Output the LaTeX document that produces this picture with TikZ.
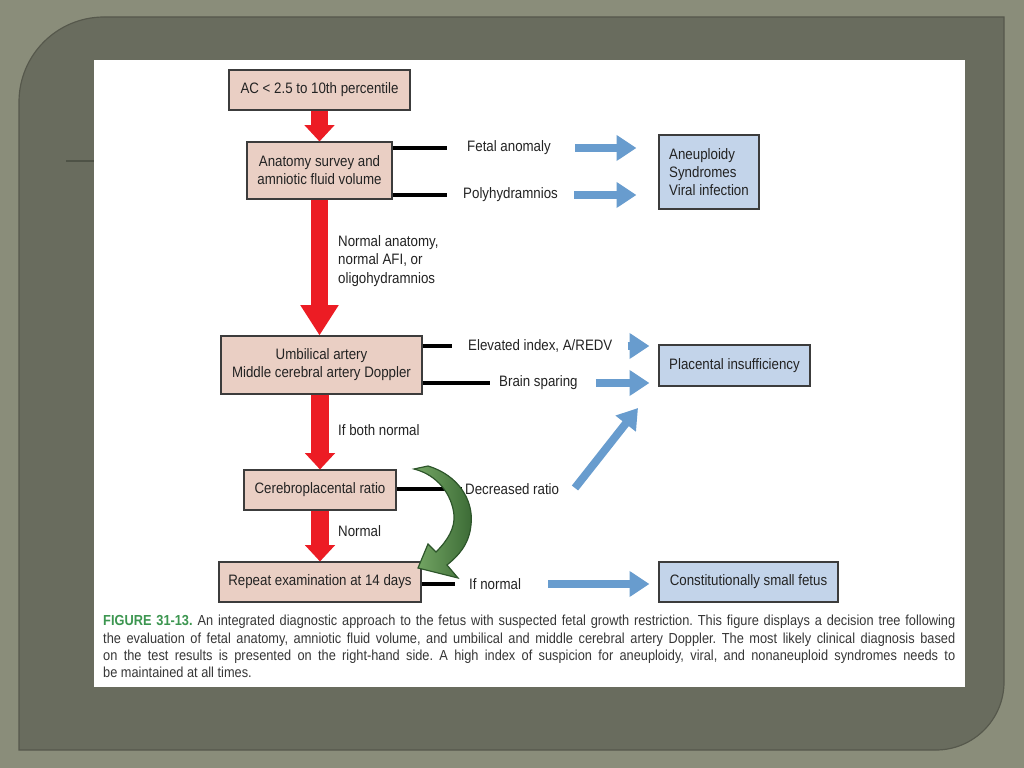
\documentclass[tikz,border=0pt]{standalone}
\usepackage{fontspec}
\setmainfont[FakeStretch=0.88]{Liberation Sans}
\usetikzlibrary{arrows.meta}

\definecolor{outerbg}{RGB}{138,141,122}
\definecolor{panelbg}{RGB}{105,108,94}
\definecolor{panelrim}{RGB}{86,88,76}
\definecolor{decoline}{RGB}{78,82,70}
\definecolor{pinkfill}{RGB}{234,207,196}
\definecolor{bluefill}{RGB}{195,212,234}
\definecolor{boxline}{RGB}{60,60,60}
\definecolor{redarr}{RGB}{236,28,36}
\definecolor{bluearr}{RGB}{104,156,206}
\definecolor{capgreen}{RGB}{60,150,80}
\definecolor{greenlight}{RGB}{118,168,102}
\definecolor{greendark}{RGB}{58,105,52}
\definecolor{greenline}{RGB}{45,85,42}
\definecolor{txt}{RGB}{35,35,35}
\definecolor{captxt}{RGB}{55,55,55}

\frenchspacing
\begin{document}
\begin{tikzpicture}[x=0.03cm,y=-0.03cm]

\tikzstyle{pinkbox}=[draw=boxline, fill=pinkfill, line width=0.9pt, inner sep=0pt, align=center, text=txt, font=\fontsize{12.9}{15.5}\selectfont]
\tikzstyle{bluebox}=[draw=boxline, fill=bluefill, line width=0.9pt, inner sep=0pt, align=center, text=txt, font=\fontsize{12.9}{15.5}\selectfont]
\tikzstyle{lab}=[inner sep=0pt, anchor=west, text=txt, font=\fontsize{12.9}{15.5}\selectfont]
\tikzstyle{stub}=[line width=2.6pt, black]
\tikzstyle{redarrow}=[draw=redarr, line width=15pt, -{Triangle[length=14pt,width=25pt]}]
\tikzstyle{bigredarrow}=[draw=redarr, line width=15pt, -{Triangle[length=26pt,width=31pt]}]
\tikzstyle{bluearrow}=[draw=bluearr, line width=6.8pt, -{Triangle[length=17pt,width=21pt]}]

% slide frame
\fill[outerbg] (0,0) rectangle (1024,768);
\filldraw[fill=panelbg, draw=panelrim, line width=1pt] (19,102) .. controls (19,55) and (57,17) .. (104,17) -- (1004,17) -- (1004,682) .. controls (1004,719.5) and (973.5,750) .. (936,750) -- (19,750) -- cycle;
\fill[white] (94,60) rectangle (965,687);
\draw[decoline, line width=1.5pt] (66,161) -- (94,161);

% left column
\node (ac) [pinkbox, minimum width=5.43cm, minimum height=1.2cm] at (319.5,90) {AC < 2.5 to 10th percentile};
\node (anat) [pinkbox, minimum width=4.35cm, minimum height=1.71cm] at (319.5,170.5) {Anatomy survey and\\amniotic fluid volume};
\node (uma) [pinkbox, minimum width=6.03cm, minimum height=1.74cm] at (321.5,365) {Umbilical artery\\Middle cerebral artery Doppler};
\node (cpr) [pinkbox, minimum width=4.56cm, minimum height=1.2cm] at (320,490) {Cerebroplacental ratio};
\node (rep) [pinkbox, minimum width=6.06cm, minimum height=1.2cm] at (320,582) {Repeat examination at 14 days};

% diagnoses
\node (aneu) [bluebox, minimum width=3cm, minimum height=2.22cm, align=left] at (709,172) {Aneuploidy\\Syndromes\\Viral infection};
\node (plac) [bluebox, minimum width=4.53cm, minimum height=1.23cm] at (734.5,365.5) {Placental insufficiency};
\node (csf) [bluebox, minimum width=5.37cm, minimum height=1.2cm] at (748.5,582) {Constitutionally small fetus};

% findings
\node (fetal) [lab] at (467,148) {Fetal anomaly};
\node (poly) [lab] at (463,195) {Polyhydramnios};
\node (elev) [lab] at (468,346) {Elevated index, A/REDV};
\node (brain) [lab] at (499,383) {Brain sparing};
\node (decr) [lab] at (465,489) {Decreased ratio};
\node (ifnorm) [lab] at (469,584) {If normal};
\node (nanat) [lab, align=left] at (338,261) {Normal anatomy,\\normal AFI, or\\oligohydramnios};
\node (both) [lab] at (338,430) {If both normal};
\node (norm) [lab] at (338,531) {Normal};

\coordinate (diagtail) at (575,488);
\coordinate (diagtip) at (638,408);

% red flow
\draw [redarrow] (ac) -- (anat);
\draw [bigredarrow] (anat) -- (anat.south |- uma.north);
\draw [redarrow] (cpr |- uma.south) -- (cpr);
\draw [redarrow] (cpr) -- (rep);

% stubs
\draw [stub, shorten >=0.6cm] (anat.east |- fetal) -- (fetal.west);
\draw [stub, shorten >=0.48cm] (anat.east |- poly) -- (poly.west);
\draw [stub, shorten >=0.48cm] (uma.east |- elev) -- (elev.west);
\draw [stub, shorten >=0.27cm] (uma.east |- brain) -- (brain.west);
\draw [stub, shorten >=0.09cm] (cpr.east |- decr) -- (decr.west);
\draw [stub, shorten >=0.42cm] (rep.east |- ifnorm) -- (ifnorm.west);

% blue arrows
\draw [bluearrow, shorten <=0.72cm, shorten >=0.66cm] (fetal.east) -- (aneu.west |- fetal);
\draw [bluearrow, shorten <=0.48cm, shorten >=0.66cm] (poly.east) -- (aneu.west |- poly);
\draw [bluearrow, shorten <=0.45cm, shorten >=0.27cm] (elev.east) -- (plac.west |- elev);
\draw [bluearrow, shorten <=0.54cm, shorten >=0.27cm] (brain.east) -- (plac.west |- brain);
\draw [bluearrow] (diagtail) -- (diagtip);
\draw [bluearrow, shorten <=0.81cm, shorten >=0.27cm] (ifnorm.east) -- (csf.west |- ifnorm);

% green loop back
\filldraw [draw=greenline, line width=1pt, left color=greenlight, right color=greendark]
  (428,466) .. controls (458,475) and (474,500) .. (471,525)
  .. controls (469,545) and (458,556) .. (447,565) -- (458,578) -- (418,568) -- (428,544) -- (436,552)
  .. controls (448,540) and (455,528) .. (454,515)
  .. controls (452,495) and (438,475) .. (414,469) -- cycle;

% caption
\node (cap) [anchor=north west, inner sep=0pt, text width=25.56cm, align=justify, text=captxt, font=\fontsize{12.4}{14.8}\selectfont] at (103,615)
  {\textcolor{capgreen}{\textbf{FIGURE 31-13.}} An integrated diagnostic approach to the fetus with suspected fetal growth restriction. This figure displays a decision tree following\linebreak
   the evaluation of fetal anatomy, amniotic fluid volume, and umbilical and middle cerebral artery Doppler. The most likely clinical diagnosis based\linebreak
   on the test results is presented on the right-hand side. A high index of suspicion for aneuploidy, viral, and nonaneuploid syndromes needs to\linebreak
   be maintained at all times.};

\end{tikzpicture}
\end{document}
